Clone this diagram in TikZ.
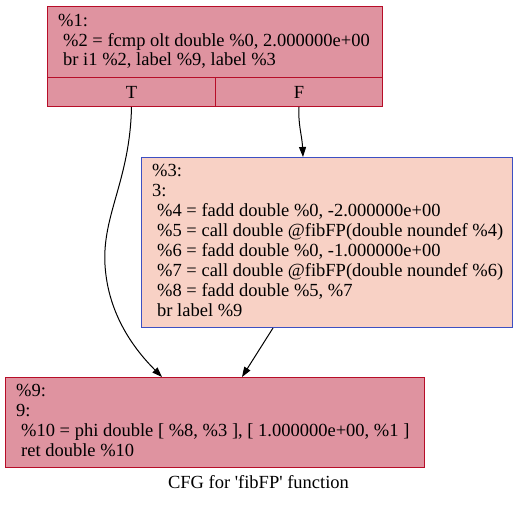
\documentclass[tikz,border=0pt]{standalone}
\usepackage{fontspec}
\setmainfont{Liberation Serif}
\usetikzlibrary{arrows.meta,calc}
\definecolor{redfill}{HTML}{DF93A0}
\definecolor{redline}{HTML}{B70D28}
\definecolor{peachfill}{HTML}{F8D1C5}
\definecolor{blueline}{HTML}{3D50C3}
\begin{document}
\begin{tikzpicture}[x=1pt,y=-1pt,
  hot/.style={draw=redline, fill=redfill, line width=1pt, inner sep=0pt, anchor=north west},
  warm/.style={draw=blueline, fill=peachfill, line width=1pt, inner sep=0pt, anchor=north west},
  txt/.style={anchor=base west, inner sep=0pt, font=\fontsize{18.5}{20}\selectfont},
  cell/.style={hot, font=\fontsize{18.5}{20}\selectfont},
  flow/.style={line width=1pt, -{Triangle[length=10pt,width=7pt]}}]
\useasboundingbox (0,0) rectangle (517,504);

% entry block %1 with its T/F branch row
\node[hot, minimum width=335pt, minimum height=71pt] (b1) at (47,6) {};
\node[cell, minimum width=168pt, minimum height=29pt] (b1t) at (47,77) {T};
\node[cell, minimum width=167pt, minimum height=29pt] (b1f) at (215,77) {F};
\node[txt] (b1l1) at (58,26) {\%1:};
\node[txt] (b1l2) at (63,46) {\%2 = fcmp olt double \%0, 2.000000e+00};
\node[txt] (b1l3) at (63,65.5) {br i1 \%2, label \%9, label \%3};

% block %3
\node[warm, minimum width=371pt, minimum height=170pt] (b3) at (141,157) {};
\node[txt] (b3l1) at (152,176.5) {\%3:};
\node[txt] (b3l2) at (152,196.5) {3:};
\node[txt] (b3l3) at (157,216.5) {\%4 = fadd double \%0, -2.000000e+00};
\node[txt] (b3l4) at (157,236.5) {\%5 = call double @fibFP(double noundef \%4)};
\node[txt] (b3l5) at (157,256.5) {\%6 = fadd double \%0, -1.000000e+00};
\node[txt] (b3l6) at (157,276.5) {\%7 = call double @fibFP(double noundef \%6)};
\node[txt] (b3l7) at (157,296.5) {\%8 = fadd double \%5, \%7};
\node[txt] (b3l8) at (157,316.5) {br label \%9};

% exit block %9
\node[hot, minimum width=419pt, minimum height=90pt] (b9) at (5,377) {};
\node[txt] (b9l1) at (16,396.5) {\%9:};
\node[txt] (b9l2) at (16,416) {9:};
\node[txt] (b9l3) at (21,436.5) {\%10 = phi double [ \%8, \%3 ], [ 1.000000e+00, \%1 ]};
\node[txt] (b9l4) at (21,456.5) {ret double \%10};

% caption
\node[txt, anchor=base] (cap) at (258.5,488) {CFG for \textquotesingle fibFP\textquotesingle{} function};

% edges
\coordinate (in9a) at ($(b9.north west)+(157,0)$);
\coordinate (in9b) at ($(b9.north west)+(237,0)$);
\coordinate (in3) at ($(b3.north west)+(162,0)$);
\coordinate (out3) at ($(b3.south west)+(132,0)$);
\coordinate (bendT) at (105,265);
\draw[flow] (b1t.south) .. controls (130,180) and (102,215) .. (bendT)
  .. controls (108,315) and (135,350) .. (in9a);
\draw[flow] (b1f.south) .. controls (298,125) and (302,135) .. (in3);
\draw[flow] (out3) -- (in9b);
\end{tikzpicture}
\end{document}
